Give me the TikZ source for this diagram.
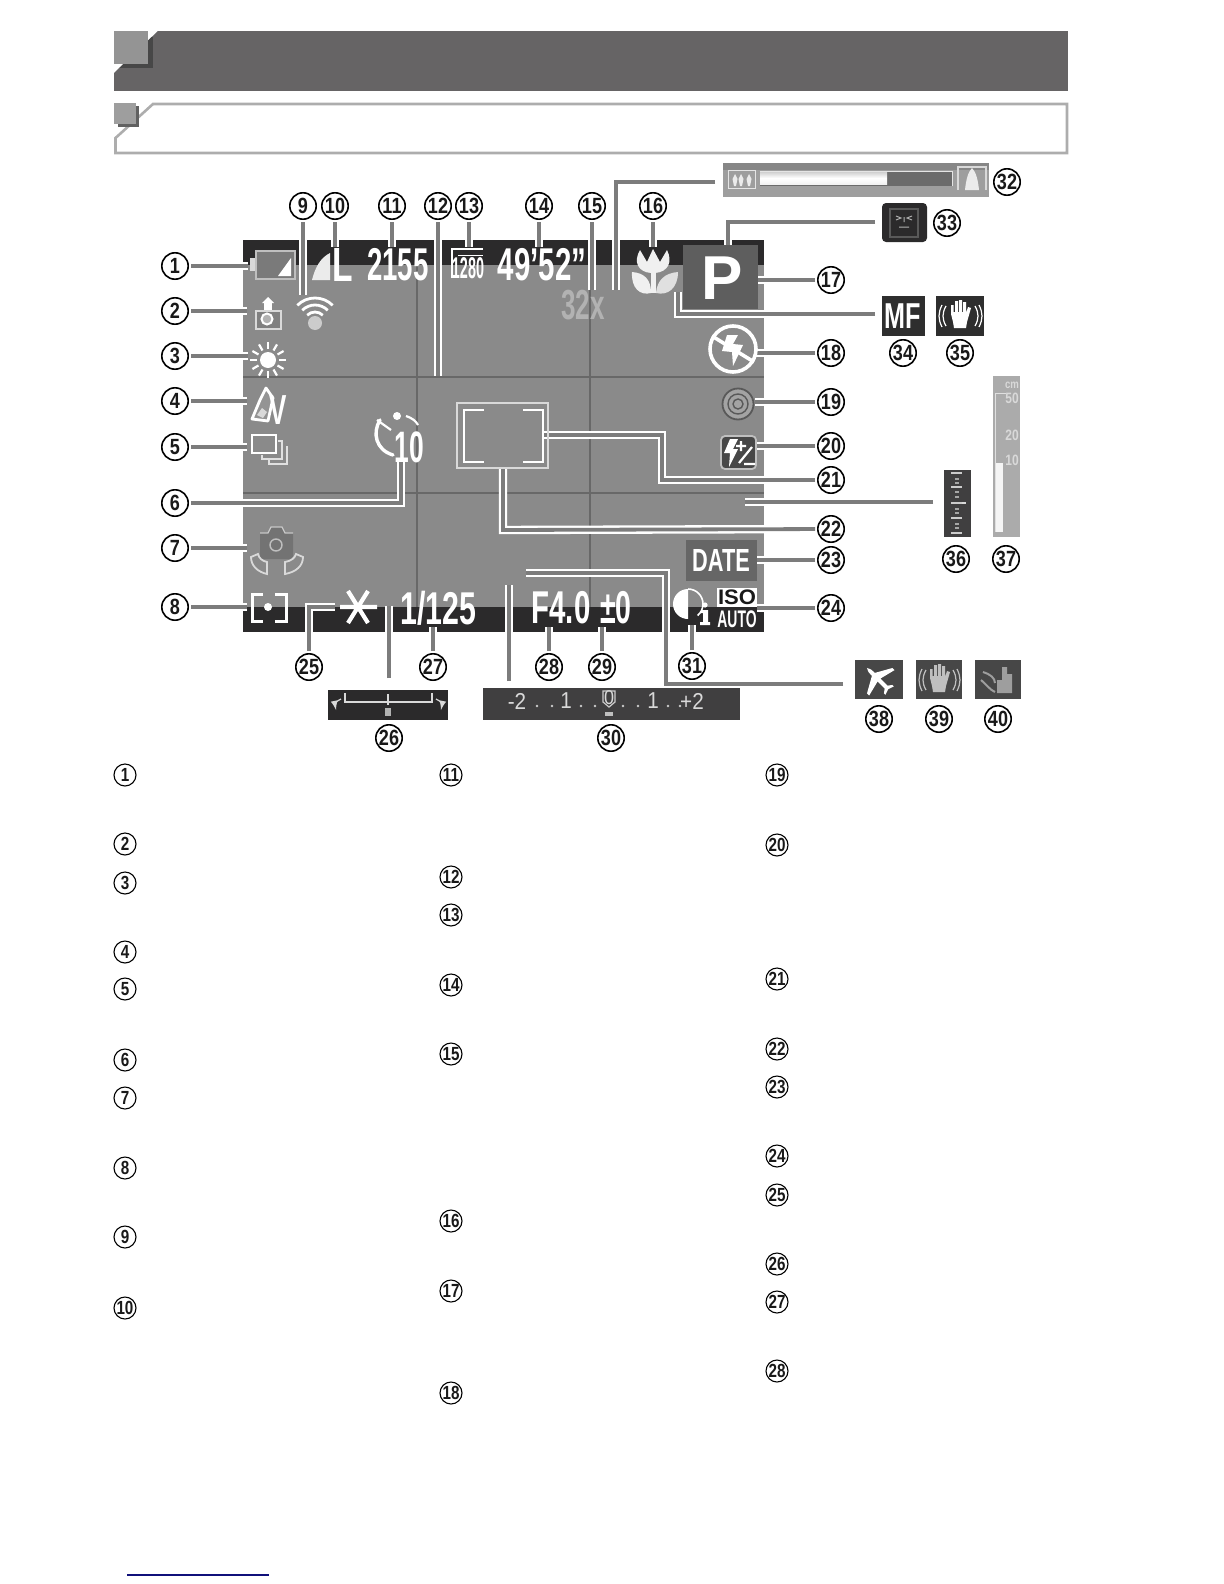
\documentclass[tikz,border=0pt]{standalone}
\usepackage{fontspec}
\usepackage{graphicx}
\setmainfont{Liberation Sans}
\usetikzlibrary{calc}
\definecolor{scr}{HTML}{8A8A8A}
\definecolor{band}{HTML}{2B2A2B}
\definecolor{gridc}{HTML}{686868}
\definecolor{head}{HTML}{666465}
\definecolor{corec}{HTML}{7C7C7C}
\definecolor{rulec}{HTML}{10107A}
\newcommand{\lcd}[3]{{\fontsize{#1}{#1}\selectfont\scalebox{#2}[1]{#3}}}
\newcommand{\conn}[1]{\draw[halo] #1; \draw[corel] #1;}
\tikzset{
 halo/.style={white,line width=4.2pt,shorten <=1pt,line join=miter},
 corel/.style={corec,line width=1.9pt,shorten <=1pt,line join=miter},
 num/.style={circle,draw=black,line width=0.8pt,fill=white,inner sep=0pt,minimum size=13.2pt,font=\bfseries\fontsize{11}{11}\selectfont,text=black!90},
 numb/.style={circle,draw=black,line width=0.55pt,inner sep=0pt,minimum size=11pt,font=\fontsize{9.5}{9.5}\selectfont,text=black!90},
 lcdt/.style={white,inner sep=0pt,font=\bfseries},
}
\newcommand{\nrow}[3]{\node[numb] (#1) at (#2,#3) {\scalebox{.8}[1]{\textbf{#1}}};}
\begin{document}
\begin{tikzpicture}[x=0.5pt,y=-0.5pt]
\useasboundingbox (0,0) rectangle (1224,1584);
\fill[white] (0,0) rectangle (1224,1584);
% header
\begin{scope}
\clip (158,31) -- (1068,31) -- (1068,91) -- (114,91) -- (114,73) -- cycle;
\fill[head] (114,31) rectangle (1068,91);
\fill[black!72] (118,37) rectangle (153,68);
\end{scope}
\fill[black!42] (114,31) rectangle (148,64);
% subheader
\draw[black!32,line width=1.3pt,fill=white] (153,104) -- (1067,104) -- (1067,153) -- (115.5,153) -- (115.5,138) -- cycle;
\fill[black!62] (118,106) rectangle (139,127);
\fill[black!38] (114,103) rectangle (136,124);
% screen
\fill[scr] (243,240) rectangle (764,632);
\draw[gridc,line width=1pt] (417,265) -- (417,607) (590,265) -- (590,607) (243,377) -- (764,377) (243,493) -- (764,493);
\fill[band] (243,240) rectangle (764,265);
\fill[band] (243,607) rectangle (764,632);
% circled numbers
\foreach \n/\x/\y in {1/175/266,2/175/311,3/175/356,4/175/401,5/175/447,6/175/503,7/175/548,8/175/607,
 9/303/206,10/335/206,11/392/206,12/438/206,13/469/206,14/539/206,15/592/206,16/653/206,
 17/831/280,18/831/353,19/831/402,20/831/446,21/831/480,22/831/529,23/831/560,24/831/608,
 25/309/667,26/389/738,27/433/667,28/549/667,29/602/667,30/611/738,31/692/666,
 32/1007/182,33/947/223,34/903/353,35/960/353,36/956/559,37/1006/559,38/879/719,39/939/719,40/998/719}
 {\node[num] (n\n) at (\x,\y) {\scalebox{.82}[1]{\n}};}
% connector ends
\foreach \n/\x/\y in {1/248/266,2/247/311,3/248/356,4/247/401,5/247/447,7/247/548,8/247/607,
 9/303/295,10/335/247,11/392/247,12/438/376,13/469/247,14/539/247,15/592/290,16/653/247,
 17/754/280,18/755/353,19/755/402,20/755/446,23/757/560,24/757/608,27/433/627,28/549/627,29/602/627,31/692/625}
 {\coordinate (e\n) at (\x,\y);}
\coordinate (b6) at (401,503); \coordinate (e6) at (401,462);
\coordinate (b21a) at (662,480); \coordinate (b21b) at (662,435); \coordinate (e21) at (542,435);
\coordinate (b22a) at (503,530); \coordinate (e22) at (503,468);
\coordinate (b25) at (309,607); \coordinate (e25) at (335,607);
\coordinate (e26) at (389,606); \coordinate (s26) at (389,680);
\coordinate (e30) at (509,585); \coordinate (s30) at (509,683);
\coordinate (s32) at (717,182); \coordinate (b32) at (616,182); \coordinate (e32) at (616,290);
\coordinate (s33) at (877,222); \coordinate (b33) at (728,222); \coordinate (e33) at (728,247);
\coordinate (s34) at (877,314); \coordinate (b34) at (678,314); \coordinate (e34) at (678,292);
\coordinate (s36) at (935,502); \coordinate (e36) at (745,502);
\coordinate (s38) at (845,684); \coordinate (b38a) at (666,684); \coordinate (b38b) at (666,573); \coordinate (e38) at (526,573);
% connectors
\foreach \n in {1,2,3,4,5,7,8,9,10,11,12,13,14,15,16,17,18,19,20,23,24,27,28,29,31}
 {\conn{(n\n) -- (e\n)}}
\conn{(n6) -- (b6) -- (e6)}
\conn{(n21) -- (b21a) -- (b21b) -- (e21)}
\conn{(n22) -- (b22a) -- (e22)}
\conn{(n25) -- (b25) -- (e25)}
\conn{(s26) -- (e26)}
\conn{(s30) -- (e30)}
\conn{(s32) -- (b32) -- (e32)}
\conn{(s33) -- (b33) -- (e33)}
\conn{(s34) -- (b34) -- (e34)}
\conn{(s36) -- (e36)}
\conn{(s38) -- (b38a) -- (b38b) -- (e38)}
% ---- icons on the screen
% battery
\draw[black!25,line width=1.1pt,fill=black!52] (256,251) rectangle (295,279);
\fill[black!15] (250,258) rectangle (255,271);
\fill[white] (278,276) -- (291,276) -- (291,258) -- cycle;
% size L
\fill[black!8] (312,280) -- (330,280) -- (330,253) .. controls (320,258) and (315,268) .. (312,280) -- cycle;
\node[lcdt] (tL) at (343,265) {\lcd{24}{.7}{L}};
\node[lcdt] (t2155) at (398,265) {\lcd{23}{.6}{2155}};
% 1280
\draw[white,line width=.9pt] (452,278) -- (452,249) -- (483,249);
\draw[white,line width=.5pt] (458,255) -- (483,255);
\node[lcdt] (t1280) at (468,268) {\lcd{15}{.48}{1280}};
\node[lcdt] (ttime) at (542,265) {\lcd{23}{.64}{49'52"}};
\node[black!30,inner sep=0pt] (t32) at (583,305) {\lcd{21}{.62}{\bfseries 32x}};
% wifi
\fill[black!20] (315,323) circle (7);
\draw[white,line width=1.4pt] (315,323) ++(225:11) arc (225:315:11);
\draw[white,line width=1.4pt] (315,323) ++(225:18) arc (225:315:18);
\draw[white,line width=1.4pt] (315,323) ++(225:25) arc (225:315:25);
% camera up
\fill[white] (262,303) -- (268,297) -- (274,303) -- cycle;
\fill[white] (264,303) rectangle (272,310);
\draw[black!15,line width=.9pt,fill=black!50] (256,311) rectangle (281,329);
\draw[white,line width=1pt,fill=black!30] (267,319) circle (5.5);
% sun
\fill[white] (268,360) circle (8);
\foreach \a in {0,30,...,330} {\draw[white,line width=1.1pt] (268,360) ++(\a:11) -- ++(\a:7);}
% my colors
\draw[white,line width=1.4pt,fill=black!42,line join=round] (266,388) -- (273,398) -- (268,421) -- (252,419) -- (260,400) -- cycle;
\fill[black!15] (262,408) -- (267,412) -- (263,418) -- (257,415) -- cycle;
\node[lcdt] (tV) at (278,410) {\lcd{21}{.62}{V}};
% continuous
\draw[black!12,line width=.9pt] (269,458) -- (269,464) -- (287,464) -- (287,446);
\draw[black!12,line width=.9pt] (262,455) -- (262,459) -- (282,459) -- (282,441) -- (278,441);
\draw[white,line width=1.2pt] (252,435) rectangle (276,453);
% timer
\node[lcdt] (t10) at (409,447) {\lcd{22}{.6}{10}};
\fill[white] (397,416) circle (4);
\draw[white,line width=1.7pt,line cap=round] (380,420) .. controls (372,433) and (376,450) .. (393,455);
\draw[white,line width=1.1pt] (377,420) -- (391,430);
\draw[white,line width=1.1pt] (406,416) .. controls (412,418) and (416,421) .. (418,425);
% IS camera
\fill[black!55] (260,533) -- (268,533) -- (271,527) -- (282,527) -- (285,533) -- (293,533) -- (293,559) -- (260,559) -- cycle;
\draw[black!22,line width=.6pt] (260,533) -- (268,533) -- (271,527) -- (282,527) -- (285,533) -- (293,533);
\draw[black!25,line width=.7pt] (276,545) circle (6);
\draw[black!15,line width=.9pt] (251,557) .. controls (251,566) and (258,572) .. (267,574) -- (267,562) .. controls (262,561) and (259,558) .. (258,554) -- cycle;
\draw[black!15,line width=.9pt] (303,557) .. controls (303,566) and (296,572) .. (285,574) -- (285,562) .. controls (291,561) and (295,558) .. (296,554) -- cycle;
% metering
\draw[white,line width=1.5pt] (263,594) -- (252,594) -- (252,621) -- (263,621) (275,594) -- (286,594) -- (286,621) -- (275,621);
\fill[white] (268,607) circle (4);
% asterisk
\draw[white,line width=2.1pt] (340,607) -- (377,607) (348,591) -- (368,623) (368,591) -- (348,623);
\node[lcdt] (tshut) at (438.5,608) {\lcd{23}{.66}{1/125}};
\node[lcdt] (tf) at (561,608) {\lcd{23}{.64}{F4.0}};
\node[lcdt] (tev) at (616,608) {\lcd{23}{.62}{±0}};
% i-contrast
\fill[white] (688,589) arc (-90:-270:15) -- cycle;
\draw[white,line width=.8pt] (688,589) arc (-90:50:15);
\fill[white] (705,605) circle (2.6);
\fill[white] (701,610) -- (708,610) -- (708,622) -- (710,622) -- (710,625) -- (700,625) -- (700,622) -- (703,622) -- (703,613) -- (701,613) -- cycle;
% ISO AUTO
\fill[white] (717,588) rectangle (757,607);
\node[inner sep=0pt,text=black!90] (tiso) at (737,597.5) {\lcd{10.5}{1.05}{\bfseries ISO}};
\node[lcdt] (tauto) at (737,619) {\lcd{12}{.58}{AUTO}};
% DATE
\fill[black!60] (686,540) rectangle (757,581);
\node[lcdt] (tdate) at (721,560) {\lcd{16}{.68}{DATE}};
% P
\fill[black!63] (683,245) rectangle (758,309);
\node[lcdt] (tP) at (722,278) {\fontsize{31}{31}\selectfont P};
% tulip
\fill[black!6] (640,250) -- (647,262) -- (653,249) -- (660,262) -- (667,250) .. controls (673,262) and (668,272) .. (655,273) -- (651,273) .. controls (638,272) and (633,262) .. (640,250) -- cycle;
\fill[black!6] (632,272) .. controls (645,273) and (651,280) .. (651,293) .. controls (640,296) and (631,288) .. (632,272) -- cycle;
\fill[black!12] (678,272) .. controls (665,273) and (657,280) .. (656,293) .. controls (668,296) and (678,288) .. (678,272) -- cycle;
\fill[black!6] (651,272) rectangle (656,293);
% flash off
\draw[white,line width=1.8pt] (733,349) circle (23);
\draw[white,line width=1.8pt] (712,336) -- (754,362);
\draw[black!50,line width=.5pt] (728,342) -- (742,351);
\fill[white] (727,335) -- (738,335) -- (733,344) -- (743,345) -- (733,366) -- (732,352) -- (722,351) -- cycle;
% 19
\draw[black!65,line width=.9pt,fill=black!36] (738,404) circle (15.5);
\draw[black!65,line width=.7pt] (738,404) circle (10);
\draw[black!65,line width=.7pt] (738,404) circle (5);
% 20
\draw[black!25,line width=.9pt,fill=black!72,rounded corners=2pt] (721,436) rectangle (756,469);
\fill[white] (730,439) -- (738,439) -- (733,449) -- (738,449) -- (729,467) -- (730,453) -- (724,453) -- cycle;
\draw[white,line width=1.1pt] (741,441) -- (741,451) (736,446) -- (746,446) (752,447) -- (739,463) (744,464) -- (755,464);
% AF frame
\draw[white!85!black,line width=1.3pt] (457,403) rectangle (548,468);
\draw[white,line width=1pt] (484,410) -- (464,410) -- (464,462) -- (484,462) (523,410) -- (543,410) -- (543,462) -- (523,462);
% ---- side bars
% bar 26
\fill[band] (328,690) rectangle (448,720);
\draw[white!85!black,line width=1.3pt] (345,693) -- (345,702) -- (432,702) -- (432,693) (388,694) -- (388,705);
\fill[black!30] (385,708) rectangle (391,716);
\draw[black!15,line width=.6pt,-latex] (341,699) .. controls (336,701) and (335,705) .. (336,710);
\draw[black!15,line width=.6pt,-latex] (436,699) .. controls (441,701) and (442,705) .. (441,710);
% bar 30
\fill[band!90!white] (483,688) rectangle (740,720);
\foreach \x/\s [count=\i] in {517/-2,566/1,653/1,692/+2}
 {\node[text=black!15,inner sep=0pt] (sc\i) at (\x,701) {\lcd{11.5}{.9}{\s}};}
\foreach \x in {537,552,581,595,623,638,668,680} {\fill[black!20] (\x,706) circle (1.4);}
\node[text=black!15,inner sep=0pt] (sc0) at (609,698) {\lcd{10}{.9}{0}};
\draw[black!20,line width=.6pt] (603,691) -- (615,691) -- (615,702) -- (609,707) -- (603,702) -- cycle;
\fill[black!25] (605,712) rectangle (613,716);
% bar 32
\fill[black!38] (723,163) rectangle (989,197);
\fill[black!75,opacity=.25] (723,163) rectangle (989,170);
\draw[black!10,line width=.5pt] (728,170) rectangle (755,188);
\foreach \x in {735,741,749} {\fill[black!8] (\x,174) -- (\x+2.5,179) -- (\x+1,186) -- (\x-1,186) -- (\x-2.5,179) -- cycle;}
\fill[black!58] (760,171) rectangle (952,186);
\shade[top color=black!18,bottom color=black!5,middle color=white] (760,172) rectangle (887,184);
\draw[black!10,line width=.5pt] (760,171) -- (952,171) -- (952,186);
\draw[black!15,line width=1pt] (958,190) -- (958,167) -- (986,167) -- (986,190);
\fill[black!8] (972,168) .. controls (976,172) and (978,180) .. (979,190) -- (965,190) .. controls (966,180) and (968,172) .. (972,168) -- cycle;
% 33
\fill[band,rounded corners=2pt] (882,203) rectangle (927,242);
\draw[black!65,line width=.7pt] (890,209) rectangle (918,237);
\draw[black!30,line width=.5pt] (896,216) -- (901,218) -- (896,220) (912,216) -- (907,218) -- (912,220) (904,217) -- (904,222) (899,227) -- (909,227);
% 34, 35
\fill[black!82] (882,296) rectangle (925,336);
\node[lcdt] (tMF) at (903,316) {\lcd{18}{.7}{MF}};
\fill[black!82] (936,296) rectangle (984,336);
\begin{scope}[shift={(960,316)}]
\fill[white] (-9,-2) -- (-9,-11) -- (-6.5,-11) -- (-6.5,-4) -- (-5,-4) -- (-5,-15) -- (-2,-15) -- (-2,-4) -- (-1,-4) -- (-1,-16) -- (2,-16) -- (2,-4) -- (3,-4) -- (3,-14) -- (6,-14) -- (6,-3) -- (8,-9) -- (11,-8) -- (7,6) -- (6,12) -- (-6,12) -- (-7,6) -- cycle;
\draw[white,line width=.6pt] (-14,-10) .. controls (-18,-3) and (-18,3) .. (-14,10) (-18,-11) .. controls (-22,-3) and (-22,3) .. (-18,11) (15,-10) .. controls (19,-3) and (19,3) .. (15,10) (19,-11) .. controls (23,-3) and (23,3) .. (19,11);
\end{scope}
% 36
\fill[band!90!white] (944,470) rectangle (971,537);
\foreach \y in {473,487,503,518,533} {\fill[black!20] (951,\y-1) rectangle (962,\y+1);}
\fill[black!15] (962,502) rectangle (966,504);
\foreach \y in {479,483,492,497,509,513,524,528} {\fill[black!35] (955,\y-.7) rectangle (959,\y+.7);}
% 37
\fill[black!33] (993,376) rectangle (1020,537);
\draw[black!12,line width=.5pt] (1006,393) -- (995,393) -- (995,532);
\fill[black!4] (996,463) rectangle (1003,532);
\foreach \t/\y/\s [count=\i] in {cm/385/6,50/398/7.5,20/435/7.5,10/460/7.5}
 {\node[text=black!15,inner sep=0pt] (sq\i) at (1012,\y) {\lcd{\s}{.8}{\bfseries\t}};}
% 38 39 40
\fill[black!72] (855,660) rectangle (903,699);
\fill[white,rotate around={45:(879,680)}] (879,663) .. controls (881,665) and (881,668) .. (881,672) -- (897,681) -- (897,684) -- (881,680) -- (881,690) -- (885,693) -- (885,695) -- (879,693) -- (873,695) -- (873,693) -- (877,690) -- (877,680) -- (861,684) -- (861,681) -- (877,672) .. controls (877,668) and (877,665) .. (879,663) -- cycle;
\fill[black!72] (916,660) rectangle (962,699);
\begin{scope}[shift={(939,680)}]
\fill[black!25] (-9,-2) -- (-9,-11) -- (-6.5,-11) -- (-6.5,-4) -- (-5,-4) -- (-5,-15) -- (-2,-15) -- (-2,-4) -- (-1,-4) -- (-1,-16) -- (2,-16) -- (2,-4) -- (3,-4) -- (3,-14) -- (6,-14) -- (6,-3) -- (8,-9) -- (11,-8) -- (7,6) -- (6,12) -- (-6,12) -- (-7,6) -- cycle;
\draw[black!25,line width=.6pt] (-13,-10) .. controls (-17,-3) and (-17,3) .. (-13,10) (-17,-11) .. controls (-21,-3) and (-21,3) .. (-17,11) (14,-10) .. controls (18,-3) and (18,3) .. (14,10) (18,-11) .. controls (22,-3) and (22,3) .. (18,11);
\end{scope}
\fill[black!72] (975,660) rectangle (1021,699);
\fill[black!38] (1002,667) -- (1007,667) -- (1007,674) -- (1012,674) -- (1012,693) -- (997,693) -- (997,680) -- (1002,680) -- cycle;
\draw[black!38,line width=1pt] (983,672) .. controls (990,674) and (995,678) .. (995,683) (981,680) .. controls (986,684) and (990,690) .. (995,692);
% ---- list numbers
\foreach \n/\y in {1/775,2/844,3/883,4/952,5/989,6/1060,7/1098,8/1168,9/1237,10/1308}
 {\nrow{\n}{125}{\y}}
\foreach \n/\y in {11/775,12/877,13/915,14/985,15/1054,16/1221,17/1291,18/1393}
 {\nrow{\n}{451}{\y}}
\foreach \n/\y in {19/775,20/845,21/979,22/1049,23/1087,24/1156,25/1195,26/1264,27/1302,28/1371}
 {\nrow{\n}{777}{\y}}
% footer rule
\draw[rulec,line width=.6pt] (127,1575) -- (269,1575);
\end{tikzpicture}
\end{document}
